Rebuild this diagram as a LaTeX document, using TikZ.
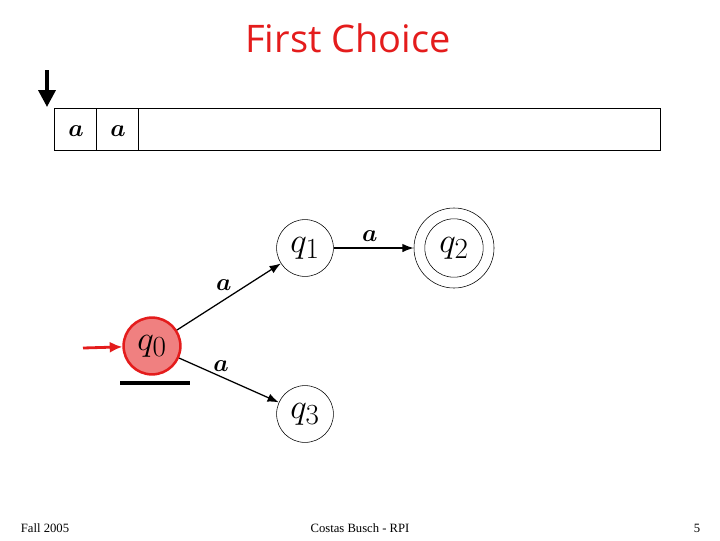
\documentclass[tikz,border=0pt]{standalone}
\usepackage{amsmath,amssymb}
\usepackage{fontspec}
\setmainfont{Liberation Serif}
\newfontfamily\titlefont{Open Sans}
\usetikzlibrary{arrows,arrows.meta}
\definecolor{tapered}{RGB}{228,28,28}
\definecolor{statefill}{RGB}{240,128,128}

\begin{document}
\begin{tikzpicture}[x=0.025cm,y=-0.025cm,
	state/.style={circle,draw,thin,minimum size=1.42cm,inner sep=0pt,font=\fontsize{28}{30}\selectfont},
	current/.style={state,draw=tapered,line width=1.8pt,fill=statefill},
	sym/.style={font=\LARGE\boldmath},
	trans/.style={-{Latex[length=8pt,width=6pt]},line width=0.9pt}]
			\useasboundingbox (0,0) rectangle (720,540);
			\node[text=tapered,font=\titlefont\fontsize{27}{29}\selectfont] (title) at (348,38) {First Choice};
			
			% tape
			\draw (54,108) rectangle (660,150);
			\draw (96,108) -- (96,150); \draw (138,108) -- (138,150);
			\node[sym] (c1) at (76,131) {$a$};
			\node[sym] (c2) at (118,131) {$a$};
			\coordinate (headtop) at (47,70); \coordinate (headbot) at (47,107);
			\draw[line width=2.6pt,-{Triangle[width=12pt,length=12pt]}] (headtop) -- (headbot);
			
			% automaton
			\node[current] (q0) at (152,346) {$q_0$};
			\node[state] (q1) at (305,248) {$q_1$};
			\node[state,minimum size=2cm] (q2) at (454,248) {$q_2$};
			\draw (q2) circle (0.73cm);
			\node[state] (q3) at (305,414) {$q_3$};
			
			\coordinate (start) at (83,348);
			\draw[-{Latex[length=9pt,width=8pt]},line width=2pt,tapered] (start) -- (q0);
			\draw[line width=3.5pt] (120,383) -- (190,383);
			
			\draw[trans] (q0) -- node[sym,pos=0.45,above=3pt] {$a$} (q1);
			\draw[trans] (q1) -- node[sym,pos=0.45,above=1pt] {$a$} (q2);
			\draw[trans] (q0) -- node[sym,pos=0.42,above=0pt] {$a$} (q3);
			
			\node[font=\small] (fall) at (45,528) {Fall 2005};
			\node[font=\small] (author) at (360,528) {Costas Busch - RPI};
			\node[font=\small] (page) at (697,528) {5};
			\end{tikzpicture}
\end{document}
